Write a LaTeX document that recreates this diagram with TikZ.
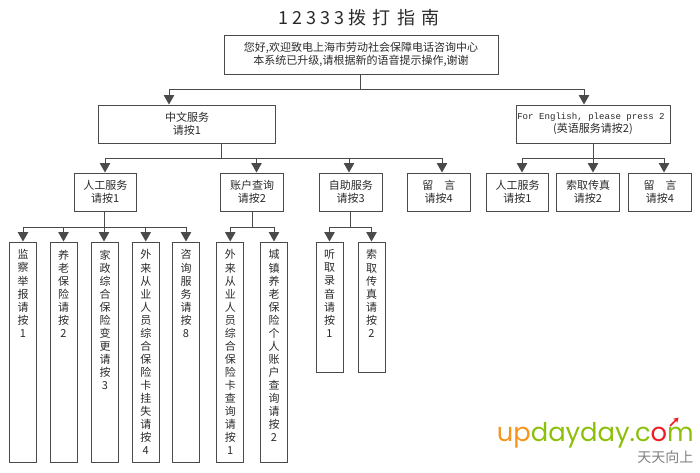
\documentclass[tikz,border=0pt]{standalone}
\usepackage{fontspec}
\setmainfont{Noto Sans CJK SC}
\newfontfamily\monofnt{Liberation Mono}
\newfontfamily\logofnt{Poppins}
\usetikzlibrary{arrows.meta}
\definecolor{linegray}{HTML}{4A4A4A}
\definecolor{textgray}{HTML}{2A2A2A}
\definecolor{logoorange}{HTML}{F7941D}
\definecolor{logogreen}{HTML}{8CBF0A}
\definecolor{logored}{HTML}{EE1C25}
\def\stacktext#1#2{\parbox[c][#1pt][t]{16pt}{\vspace*{7.7pt}\centering\baselineskip=13.05pt #2}}
\tikzset{
	box/.style={draw=linegray, line width=1pt, inner sep=0pt, text=textgray, align=center, font=\fontsize{11}{13}\selectfont},
	colbox/.style={box, minimum width=27pt},
	wire/.style={draw=linegray, line width=1pt},
	arr/.style={wire, -{Triangle[width=10.5pt,length=9.5pt]}}
}

\begin{document}
\begin{tikzpicture}[x=1pt, y=-1pt]
		\useasboundingbox (0, 0) rectangle (700, 472);
		%%%%% TITLE %%%%%
		\node[text=textgray, font=\fontsize{18}{20}\selectfont] (title) at (359, 18) {1\hspace{4pt}2\hspace{4pt}3\hspace{4pt}3\hspace{4pt}3\hspace{4pt}拨\hspace{6.5pt}打\hspace{6.5pt}指\hspace{6.5pt}南};

		%%%%% BOXES %%%%%
		\node[box, minimum width=274pt, minimum height=39pt] (top) at (361, 54.5) {您好,欢迎致电上海市劳动社会保障电话咨询中心\\本系统已升级,请根据新的语音提示操作,谢谢};
		\node[box, minimum width=177pt, minimum height=38pt] (cn) at (187, 124) {中文服务\\请按1};
		\node[box, minimum width=154pt, minimum height=38pt] (en) at (593, 124) {{\monofnt\fontsize{9.1}{13}\selectfont For English, please press 2\hspace*{4pt}}\\(英语服务请按2)};

		\node[box, minimum width=62.5pt, minimum height=38pt] (cnstaff) at (105.25, 192) {人工服务\\请按1};
		\node[box, minimum width=62.5pt, minimum height=38pt] (cnacct) at (252, 192) {账户查询\\请按2};
		\node[box, minimum width=62.5pt, minimum height=38pt] (cnself) at (350.75, 192) {自助服务\\请按3};
		\node[box, minimum width=62.5pt, minimum height=38pt] (cnmsg) at (438.75, 192) {留\quad 言\\请按4};
		\node[box, minimum width=62.5pt, minimum height=38pt] (enstaff) at (517.5, 192) {人工服务\\请按1};
		\node[box, minimum width=62.5pt, minimum height=38pt] (enfax) at (588, 192) {索取传真\\请按2};
		\node[box, minimum width=62.5pt, minimum height=38pt] (enmsg) at (660, 192) {留\quad 言\\请按4};

		\node[colbox, minimum height=220pt] (report) at (23, 352) {\stacktext{220}{监\\察\\举\\报\\请\\按\\1}};
		\node[colbox, minimum height=220pt] (pension) at (63.5, 352) {\stacktext{220}{养\\老\\保\\险\\请\\按\\2}};
		\node[colbox, minimum height=220pt] (domestic) at (105, 352) {\stacktext{220}{家\\政\\综\\合\\保\\险\\变\\更\\请\\按\\3}};
		\node[colbox, minimum height=220pt] (lostcard) at (145.75, 352) {\stacktext{220}{外\\来\\从\\业\\人\\员\\综\\合\\保\\险\\卡\\挂\\失\\请\\按\\4}};
		\node[colbox, minimum height=220pt] (consult) at (186, 352) {\stacktext{220}{咨\\询\\服\\务\\请\\按\\8}};
		\node[colbox, minimum height=220pt] (cardquery) at (230.25, 352) {\stacktext{220}{外\\来\\从\\业\\人\\员\\综\\合\\保\\险\\卡\\查\\询\\请\\按\\1}};
		\node[colbox, minimum height=220pt] (cityquery) at (274, 352) {\stacktext{220}{城\\镇\\养\\老\\保\\险\\个\\人\\账\\户\\查\\询\\请\\按\\2}};
		\node[colbox, minimum height=130pt] (listen) at (329.5, 307) {\stacktext{130}{听\\取\\录\\音\\请\\按\\1}};
		\node[colbox, minimum height=130pt] (fax) at (371.5, 307) {\stacktext{130}{索\\取\\传\\真\\请\\按\\2}};

		%%%%% CONNECTORS %%%%%
		\coordinate (topbus) at (360.5, 89);
		\draw[wire] (top.south -| topbus) -- (topbus);
		\draw[arr] (topbus) -| ([xshift=-18pt]cn.north);
		\draw[arr] (topbus) -| ([xshift=-9pt]en.north);

		\coordinate (cnbus) at (221.5, 158.5);
		\draw[wire] (cn.south -| cnbus) -- (cnbus);
		\draw[arr] (cnbus) -| ([xshift=-0.25pt]cnstaff.north);
		\draw[arr] (cnbus) -| ([xshift=4.5pt]cnacct.north);
		\draw[arr] (cnbus) -| ([xshift=-1.75pt]cnself.north);
		\draw[arr] (cnbus) -| ([xshift=3.25pt]cnmsg.north);

		\coordinate (enbus) at (593, 158.5);
		\draw[arr] (en.south -| enbus) -- ([xshift=5pt]enfax.north);
		\draw[arr] (enbus) -| ([xshift=4.5pt]enstaff.north);
		\draw[arr] (enbus) -| ([xshift=4pt]enmsg.north);

		\coordinate (staffbus) at (104, 227);
		\draw[arr] (cnstaff.south -| staffbus) -- (domestic.north -| staffbus);
		\foreach \target in {report, pension, lostcard, consult}
			\draw[arr] (staffbus) -| (\target.north);

		\coordinate (acctbus) at (252, 227);
		\draw[wire] (cnacct.south -| acctbus) -- (acctbus);
		\foreach \target in {cardquery, cityquery}
			\draw[arr] (acctbus) -| (\target.north);

		\coordinate (selfbus) at (350, 227);
		\draw[wire] (cnself.south -| selfbus) -- (selfbus);
		\foreach \target in {listen, fax}
			\draw[arr] (selfbus) -| (\target.north);

		%%%%% LOGO %%%%%
		\node[anchor=base east, inner sep=0pt, font=\logofnt\fontsize{25.8}{27}\selectfont] (logo) at (694, 441)
			{\textcolor{logoorange}{up}\textcolor{logogreen}{dayday.c}\textcolor{logored}{o}\textcolor{logogreen}{m}};
		\draw[-{Stealth[width=6pt,length=5pt]}, logored, line width=1.6pt] (670, 426) -- (678.5, 417.5);
		\node[anchor=base east, inner sep=0pt, text=gray, font=\fontsize{14}{14}\selectfont] (slogan) at (693.5, 462) {天天向上};
	\end{tikzpicture}
\end{document}
